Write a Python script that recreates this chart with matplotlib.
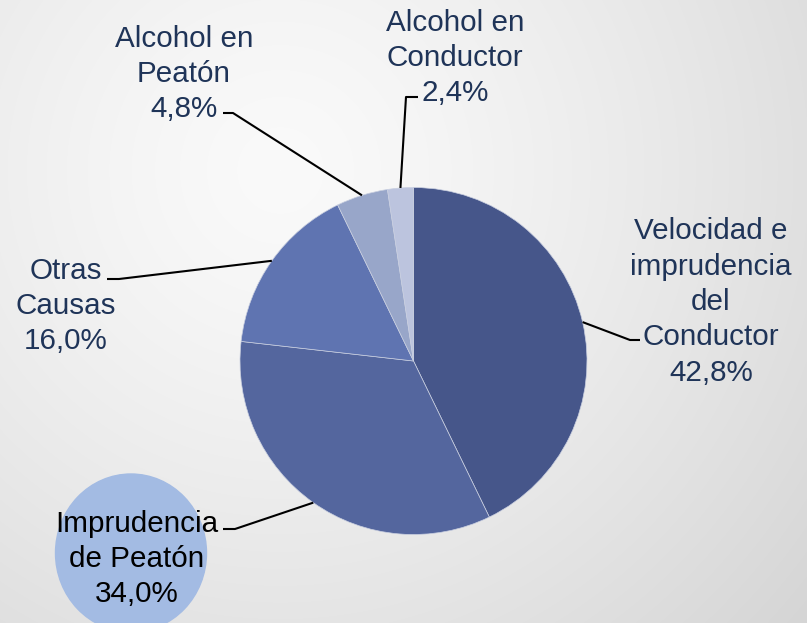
import numpy as np
import matplotlib.pyplot as plt
from matplotlib.patches import Ellipse

W, H = 807, 623

labels = ["Velocidad e\nimprudencia\ndel\nConductor", "Imprudencia\nde Peatón",
          "Otras\nCausas", "Alcohol en\nPeatón", "Alcohol en\nConductor"]
values = [42.8, 34.0, 16.0, 4.8, 2.4]
colors = ["#46568a", "#54669e", "#5f74b1", "#98a6c9", "#bcc4de"]

# label block centre, elbow point and end of the short horizontal stub (pixels, y down)
label_pos = [(711, 302), (137, 559), (66, 306), (184, 74), (455, 58)]
elbows = [(630, 340), (235, 529), (119, 279), (233, 113), (406, 97)]
stubs = [(640, 340), (223, 529), (107, 279), (223, 113), (418, 97)]
text_colors = ["#1f3458", "black", "#1f3458", "#1f3458", "#1f3458"]

center = (413.5, 361)
radius = 173.5


def fy(y):
    return H - y


def main():
    fig = plt.figure(figsize=(W / 100, H / 100), dpi=100)
    ax = fig.add_axes([0, 0, 1, 1])
    ax.set_xlim(0, W)
    ax.set_ylim(0, H)
    ax.set_aspect("equal")
    ax.axis("off")

    # soft radial grey background
    yy, xx = np.mgrid[0:H, 0:W]
    d = np.hypot(xx - 280, yy - 170)
    d = d / d.max()
    g = (250 - 37 * d ** 1.3) / 255.0
    ax.imshow(np.dstack([g, g, g]), extent=[0, W, 0, H], origin="upper",
              zorder=0)

    ax.add_patch(Ellipse((131, fy(553)), 151, 158, color="#a3bbe3", zorder=1))

    wedges, _ = ax.pie(values, colors=colors, startangle=90, counterclock=False,
                       center=(center[0], fy(center[1])), radius=radius,
                       wedgeprops=dict(edgecolor="#c9cfe0", linewidth=0.5),
                       frame=True)
    for w in wedges:
        w.set_zorder(2)
    ax.set_xlim(0, W)
    ax.set_ylim(0, H)
    ax.axis("off")

    total = sum(values)
    for i, w in enumerate(wedges):
        ang = np.deg2rad((w.theta1 + w.theta2) / 2)
        px = center[0] + radius * np.cos(ang)
        py = fy(center[1]) + radius * np.sin(ang)
        ex, ey = elbows[i]
        sx, sy = stubs[i]
        ax.plot([px, ex, sx], [py, fy(ey), fy(sy)], color="black", lw=1.5,
                zorder=3, solid_capstyle="butt")
        pct = f"{values[i] / total * 100:.1f}".replace(".", ",") + "%"
        tx, ty = label_pos[i]
        ax.text(tx, fy(ty), labels[i] + "\n" + pct, ha="center", va="center",
                multialignment="center", fontsize=21.3, color=text_colors[i],
                family=["Liberation Sans", "DejaVu Sans"], linespacing=1.33,
                zorder=4)

    fig.savefig("out.png", dpi=100)


if __name__ == "__main__":
    main()
